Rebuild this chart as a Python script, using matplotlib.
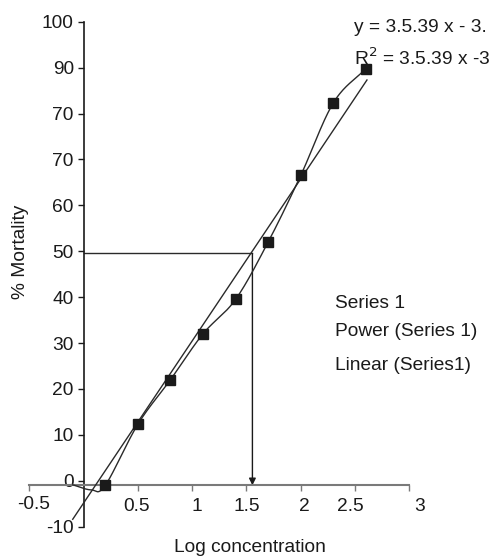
import numpy as np
import matplotlib
matplotlib.use("Agg")
import matplotlib.pyplot as plt
import matplotlib.transforms as mtransforms

plt.rcParams['font.family'] = ['Liberation Sans', 'DejaVu Sans']

# Data
log_conc = [0.2, 0.5, 0.8, 1.1, 1.4, 1.7, 2.0, 2.3, 2.6]
mortality = [-1.0, 12.3, 22.0, 32.0, 39.5, 52.0, 66.5, 82.3, 89.8]
# leading part of the smoothed curve (before first point)
curve_lead_x = [-0.1, 0.07]
curve_lead_y = [-0.9, -2.0]
# linear trend line end points
linear_x = [-0.1, 2.61]
linear_y = [-8.4, 87.3]
# LC50 reading
lc50_x = 1.555
lc50_y = 49.5

yticks = [100, 90, 80, 70, 60, 50, 40, 30, 20, 10, 0, -10]
ytick_labels = ["100", "90", "70", "70", "60", "50", "40", "30", "20", "10", "0", "-10"]
xticks = [-0.5, 0.5, 1, 1.5, 2, 2.5, 3]
xtick_labels = ["-0.5", "0.5", "1", "1.5", "2", "2.5", "3"]

legend_labels = ["Series 1", "Power (Series 1)", "Linear (Series1)"]
eq_line1 = "y = 3.5.39 x - 3."
eq_line2 = r"R$^2$ = 3.5.39 x -3"

FS = 13.8
# small per-label shifts (pixels) as in the reference typesetting
xlabel_dx = [4, -1, 5, 0, 4, -5, 10]
xlabel_dy = [2, 0, 0, 0, 0, 0, 0]


def catmull_rom(px, py, n=30):
    px = np.asarray(px, float); py = np.asarray(py, float)
    P = np.column_stack([px, py])
    P = np.vstack([2 * P[0] - P[1], P, 2 * P[-1] - P[-2]])
    out = []
    for i in range(1, len(P) - 2):
        p0, p1, p2, p3 = P[i - 1], P[i], P[i + 1], P[i + 2]
        t = np.linspace(0, 1, n, endpoint=False)[:, None]
        pt = 0.5 * ((2 * p1) + (-p0 + p2) * t + (2 * p0 - 5 * p1 + 4 * p2 - p3) * t ** 2
                    + (-p0 + 3 * p1 - 3 * p2 + p3) * t ** 3)
        out.append(pt)
    out.append(P[-2][None, :])
    out = np.vstack(out)
    return out[:, 0], out[:, 1]


W, H = 492, 556
fig = plt.figure(figsize=(W / 100, H / 100), dpi=100)
x0_px, x1_px = 29.3, 409.3
y0_px, y1_px = 526.6, 21.7
ax = fig.add_axes([x0_px / W, 1 - y0_px / H, (x1_px - x0_px) / W, (y0_px - y1_px) / H])
ax.set_xlim(-0.5, 3)
ax.set_ylim(-10, 100)
ax.patch.set_visible(False)

for s in ['top', 'right']:
    ax.spines[s].set_visible(False)
ax.spines['left'].set_position(('data', 0))
ax.spines['bottom'].set_position(('data', -1))
ax.spines['left'].set_color('#1a1a1a')
ax.spines['left'].set_linewidth(1.2)
ax.spines['bottom'].set_color('#7a7a7a')
ax.spines['bottom'].set_linewidth(1.5)

ax.set_yticks(yticks)
ax.set_yticklabels(ytick_labels)
ax.set_xticks(xticks)
ax.set_xticklabels(xtick_labels)
ax.tick_params(axis='y', direction='out', length=4, width=1, colors='#1a1a1a',
               labelsize=FS, pad=3)
ax.tick_params(axis='x', direction='out', length=4, width=1, color='#7a7a7a',
               labelcolor='#1a1a1a', labelsize=FS, pad=5.5)

for lab, dx, dy in zip(ax.get_xticklabels(), xlabel_dx, xlabel_dy):
    off = mtransforms.ScaledTranslation(dx / 100, dy / 100, fig.dpi_scale_trans)
    lab.set_transform(lab.get_transform() + off)

# curves
cx, cy = catmull_rom(curve_lead_x + log_conc, curve_lead_y + mortality)
ax.plot(cx, cy, color='#2a2a2a', lw=1.0, clip_on=False, zorder=3)
ax.plot(linear_x, linear_y, color='#2a2a2a', lw=1.0, clip_on=False, zorder=3)
ax.plot(log_conc, mortality, linestyle='none', marker='s', markersize=7.2,
        color='#1a1a1a', clip_on=False, zorder=4)

# LC50 lines
ax.plot([0, lc50_x], [lc50_y, lc50_y], color='#2a2a2a', lw=1.0, zorder=2)
ax.annotate('', xy=(lc50_x, -1), xytext=(lc50_x, lc50_y),
            arrowprops=dict(arrowstyle='-|>', color='#1a1a1a', lw=1.0,
                            mutation_scale=10, shrinkA=0, shrinkB=0), zorder=2)

# labels
fig.text(250 / W, 1 - 547 / H, "Log concentration", ha='center', va='center',
         fontsize=FS, color='#1a1a1a')
fig.text(21 / W, 1 - 252 / H, "% Mortality", ha='center', va='center',
         rotation=90, fontsize=FS, color='#1a1a1a')

fig.text(354 / W, 1 - 28 / H, eq_line1, ha='left', va='center', fontsize=FS, color='#1a1a1a')
fig.text(354 / W, 1 - 58 / H, eq_line2, ha='left', va='center', fontsize=FS, color='#1a1a1a')

for lbl, ypx in zip(legend_labels, [303, 331, 365]):
    fig.text(335 / W, 1 - ypx / H, lbl, ha='left', va='center', fontsize=FS, color='#1a1a1a')

fig.savefig('out.png', dpi=100)
